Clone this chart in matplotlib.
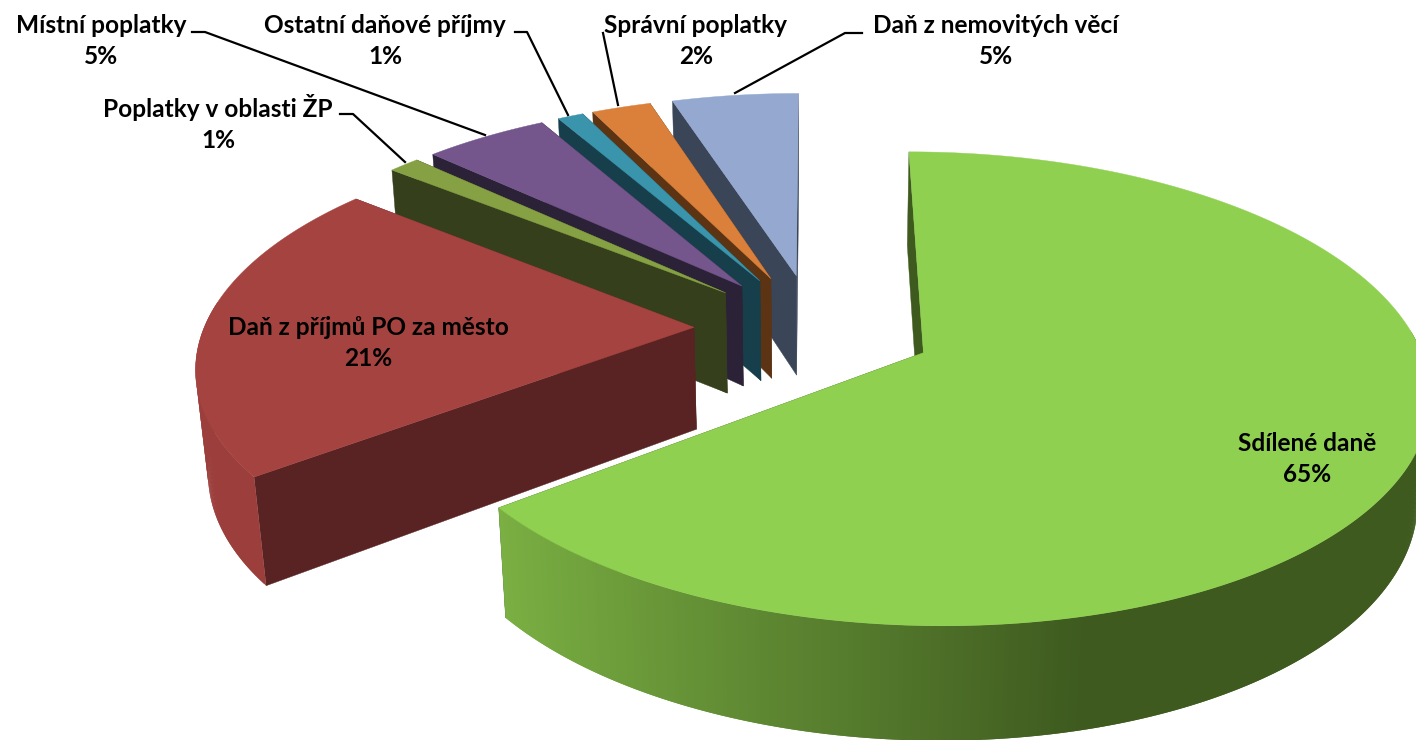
import numpy as np
import matplotlib
matplotlib.use('Agg')
import matplotlib.pyplot as plt
from matplotlib.patches import Polygon

plt.rcParams['font.family'] = ['Lato', 'DejaVu Sans']

labels = ['Sdílené daně', 'Daň z příjmů PO za město', 'Poplatky v oblasti ŽP', 'Místní poplatky',
          'Ostatní daňové příjmy', 'Správní poplatky', 'Daň z nemovitých věcí']
shares = [64.6, 21.2, 1.2, 4.8, 1.0, 2.3, 4.9]

top_colors = ['#8fd050', '#a54340', '#85a143', '#74558c', '#3a94ac', '#db803a', '#94a8d0']
wall_colors = ['#3e5a1f', '#5a2323', '#363f1c', '#2c2238', '#173f4b', '#5c3414', '#3a4558']
rim_light = ['#7bb043', '#9c3e3b', '#85a143', '#74558c', '#3a94ac', '#db803a', '#94a8d0']

start_angle = 0.0
explode = 0.245
draw_order = [6, 5, 4, 3, 2, 1, 0]

# projection of the pie plane onto the picture
cx, cy = 814, 328
rx, ry = 490, 224
persp = 0.15
depth = 104
depth_w = 0.02


def project(u, v, bottom=False):
    w = 1 + persp * v + (depth_w if bottom else 0)
    x = cx + rx * u / w
    y = cy - (ry * v - (depth if bottom else 0)) / w
    return np.column_stack([x, y])


def mix(c1, c2, t):
    a = np.array(matplotlib.colors.to_rgb(c1))
    b = np.array(matplotlib.colors.to_rgb(c2))
    return a + (b - a) * t


fig = plt.figure(figsize=(14.16, 7.4), dpi=100)
ax = fig.add_axes([0, 0, 1, 1])
ax.set_xlim(0, 1416)
ax.set_ylim(740, 0)
ax.axis('off')

edges = start_angle + np.cumsum([0] + shares) * 3.6
for i in draw_order:
    a0, a1 = np.radians(edges[i]), np.radians(edges[i + 1])
    mid = (a0 + a1) / 2
    u0, v0 = explode * np.sin(mid), explode * np.cos(mid)
    t = np.linspace(a0, a1, max(int(shares[i] * 8), 4))
    u, v = u0 + np.sin(t), v0 + np.cos(t)
    z = i * -10

    # radial walls
    for a in (a0, a1):
        ue = np.array([u0, u0 + np.sin(a)])
        ve = np.array([v0, v0 + np.cos(a)])
        pts = np.vstack([project(ue, ve), project(ue, ve, True)[::-1]])
        ax.add_patch(Polygon(pts, fc=wall_colors[i], ec=wall_colors[i], lw=0.3, zorder=z))

    # rim, shaded along the arc, only the part that faces the viewer
    # every quad overlaps the next one so no seams show
    top = project(u, v)
    bot = project(u, v, True)
    for k in range(len(t) - 1):
        if np.cos(t[k]) > 0.1:
            continue
        n = min(k + 2, len(t) - 1)
        s = np.clip((np.sin(t[k]) + 0.8) / 1.05, 0, 1)
        col = mix(rim_light[i], wall_colors[i], s)
        quad = np.vstack([top[k], top[n], bot[n], bot[k]])
        ax.add_patch(Polygon(quad, fc=col, ec='none', zorder=z))

    # top face
    ring = np.vstack([project(np.array([u0]), np.array([v0])), top])
    ax.add_patch(Polygon(ring, fc=top_colors[i], ec=top_colors[i], lw=0.3, zorder=z + 1))

label_pos = [(1307, 459), (368, 343), (218, 123), (101, 41), (385, 41), (696, 41), (996, 41)]
for name, share, (x, y) in zip(labels, shares, label_pos):
    ax.text(x, y, '%s\n%d%%' % (name, round(share)), ha='center', va='center', fontsize=17.6,
            fontweight='bold', linespacing=1.4, color='black', zorder=20)

leaders = [
    ([340, 353, 405], [114, 114, 162]),
    ([192, 205, 485], [32, 32, 135]),
    ([515, 527, 568], [32, 32, 115]),
    ([603, 618], [33, 105]),
    ([862, 845, 735], [33, 33, 93]),
]
for xs, ys in leaders:
    ax.plot(xs, ys, color='black', lw=1.6, zorder=15)

plt.savefig('out.png', dpi=100)
